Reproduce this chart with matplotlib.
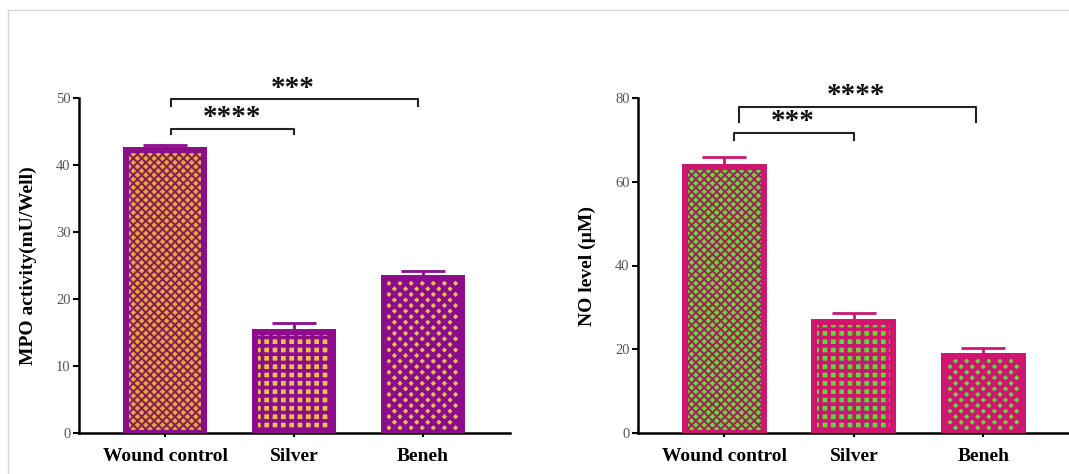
import matplotlib
matplotlib.use("Agg")
import matplotlib.pyplot as plt
from matplotlib.lines import Line2D

plt.rcParams["font.family"] = ["Liberation Serif", "DejaVu Serif"]

groups = ["Wound control", "Silver", "Beneh"]

mpo_vals = [42.2, 15.1, 23.2]
mpo_err = [0.8, 1.3, 1.0]
no_vals = [63.6, 26.6, 18.4]
no_err = [2.4, 2.0, 1.9]

# significance brackets: (x1, x2, bar y, leg y, star x, star y, label)
mpo_sig = [(0.05, 1.96, 49.85, 48.8, 0.99, 51.4, "***"),
           (0.05, 1.00, 45.4, 44.6, 0.52, 47.1, "****")]
no_sig = [(0.115, 1.94, 77.8, 74.2, 1.02, 80.6, "****"),
          (0.077, 1.00, 71.6, 69.9, 0.53, 74.4, "***")]

W, H = 1069, 474
fig = plt.figure(figsize=(W / 100, H / 100), dpi=100)

# thin grey frame of the original screenshot
fig.add_artist(Line2D([8 / W, 8 / W], [0, 1 - 10 / H], color="#d6d6d6", lw=1))
fig.add_artist(Line2D([8 / W, 1], [1 - 10 / H, 1 - 10 / H], color="#d6d6d6", lw=1))


def panel(rect, vals, errs, sig, ymax, ystep, border, styles, ylabel, xmax):
    ax = fig.add_axes(rect)
    x = range(len(vals))
    for i, (v, (face, hcol, hatch, hlw)) in enumerate(zip(vals, styles)):
        with plt.rc_context({"hatch.linewidth": hlw}):
            ax.bar(i, v, width=0.61, color=face, edgecolor=hcol, hatch=hatch,
                   linewidth=0, zorder=2)
        ax.bar(i, v, width=0.61, fill=False, edgecolor=border, linewidth=4.3, zorder=3)
    ax.errorbar(list(x), vals, yerr=[[0] * len(errs), errs], fmt="none",
                ecolor=border, elinewidth=2, capsize=15.5, capthick=2, zorder=1)
    for x1, x2, yb, yl, sx, sy, lab in sig:
        ax.plot([x1, x1, x2, x2], [yl, yb, yb, yl], color="#222222", lw=1.5,
                clip_on=False, zorder=4)
        ax.text(sx, sy, lab, ha="center", va="center", fontsize=21,
                fontweight="bold", color="#111111")
    ax.set_xlim(-0.667, xmax)
    ax.set_ylim(0, ymax)
    ax.set_yticks(range(0, ymax + 1, ystep))
    ax.set_xticks(list(x))
    ax.set_xticklabels(groups, fontsize=14, fontweight="bold")
    for s in ["top", "right"]:
        ax.spines[s].set_visible(False)
    for s in ["left", "bottom"]:
        ax.spines[s].set_linewidth(1.8)
    ax.tick_params(axis="y", length=4, width=1.5, labelsize=10.5,
                   labelcolor="#555555", pad=2)
    ax.tick_params(axis="x", length=3, width=1.5, pad=8)
    ax.set_ylabel(ylabel, fontsize=14, fontweight="bold", labelpad=14)
    return ax


purple = "#8c0c8c"
mpo_styles = [("#e0a848", "#8a1c50", "xxxx", 1.4),
              ("#e8c050", purple, "++", 2.6),
              ("#e8c050", purple, "xxx", 3.0)]
magenta = "#cc1670"
no_styles = [("#6ad83c", "#a0205a", "xxxx", 1.4),
             ("#5fd83a", magenta, "++", 2.6),
             ("#6ad83c", magenta, "xxx", 3.0)]

panel([79 / W, 1 - 433 / H, 431 / W, 335 / H], mpo_vals, mpo_err, mpo_sig, 50, 10,
      purple, mpo_styles, "MPO activity(mU/Well)", 2.674)
panel([638 / W, 1 - 433 / H, 431 / W, 335 / H], no_vals, no_err, no_sig, 80, 20,
      magenta, no_styles, "NO level (\u00b5M)", 2.66)

fig.savefig("out.png", dpi=100)
